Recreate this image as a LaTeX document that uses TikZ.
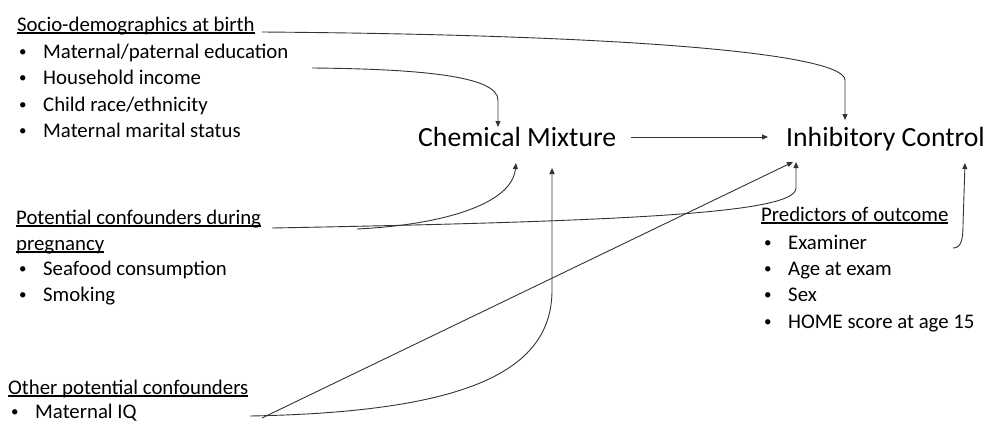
\documentclass[tikz,border=0pt]{standalone}
\usepackage{fontspec}
\setmainfont{Carlito}
\usetikzlibrary{arrows.meta}
\newcommand{\ulin}[1]{\setbox0\hbox{#1}\rlap{\rule[-2.6pt]{\wd0}{1.3pt}}\box0}
\newcommand{\itm}[2][24pt]{\makebox[#1][l]{\raisebox{1.2pt}{\fontsize{15}{15}\selectfont •}}#2}
\begin{document}
\begin{tikzpicture}[x=1pt,y=-1pt,
  lbl/.style={anchor=base west, inner sep=0pt, font=\fontsize{20.8}{24}\selectfont},
  big/.style={anchor=base west, inner sep=0pt, font=\fontsize{27.7}{33}\selectfont},
  conn/.style={draw=black!80, line width=0.9pt},
  arr/.style={conn, -{Triangle[length=6pt,width=5pt]}}]
\useasboundingbox (0,0) rectangle (987,423);

% left column
\node[lbl] (socio) at (17,31) {\ulin{Socio-demographics at birth}};
\node[lbl] (s1) at (19,58) {\itm{Maternal/paternal education}};
\node[lbl] (s2) at (19,84) {\itm{Household income}};
\node[lbl] (s3) at (19,111) {\itm{Child race/ethnicity}};
\node[lbl] (s4) at (19,137) {\itm{Maternal marital status}};

\node[lbl] (pot) at (16,224) {\ulin{Potential confounders during}};
\node[lbl] (pot2) at (16,250) {\ulin{pregnancy}};
\node[lbl] (p1) at (19,275) {\itm{Seafood consumption}};
\node[lbl] (p2) at (19,301) {\itm{Smoking}};

\node[lbl] (oth) at (8,394) {\ulin{Other potential confounders}};
\node[lbl] (o1) at (11,418) {\itm{Maternal IQ}};

% right column
\node[lbl] (pred) at (761,221) {\ulin{Predictors of outcome}};
\node[lbl] (r1) at (764,249) {\itm{Examiner}};
\node[lbl] (r2) at (764,275) {\itm{Age at exam}};
\node[lbl] (r3) at (764,301) {\itm{Sex}};
\node[lbl] (r4) at (764,328) {\itm{HOME score at age 15}};

% main nodes
\node[big] (chem) at (418,146) {Chemical Mixture};
\node[big] (inhib) at (786,146) {Inhibitory Control};

% connector end points
\coordinate (aS) at (262,32);
\coordinate (aSt) at (845,120);
\coordinate (bS) at (312,68);
\coordinate (bSt) at (498,127);
\coordinate (cS) at (631,137);
\coordinate (cSt) at (768,137);
\coordinate (d1S) at (357,229);
\coordinate (d1t) at (516,163);
\coordinate (d2S) at (272,228);
\coordinate (d2t) at (796,162);
\coordinate (e1S) at (262,418);
\coordinate (e1t) at (793,162);
\coordinate (e2S) at (250,416);
\coordinate (e2t) at (552,168);
\coordinate (fS) at (953,248);
\coordinate (ft) at (965,163);

\draw[arr] (aS) .. controls (650,35) and (844,55) .. (845,80) -- (aSt);
\draw[arr] (bS) .. controls (420,69) and (498,76) .. (498,100) -- (bSt);
\draw[arr] (cS) -- (cSt);
\draw[arr] (d1S) .. controls (440,225) and (512,205) .. (d1t);
\draw[arr] (d2S) .. controls (650,221) and (796,212) .. (796,188) -- (d2t);
\draw[arr] (e1S) -- (e1t);
\draw[arr] (e2S) .. controls (470,412) and (552,370) .. (552,290) -- (e2t);
\draw[arr] (fS) .. controls (961,248) and (963,240) .. (963,225) -- (ft);
\end{tikzpicture}
\end{document}
